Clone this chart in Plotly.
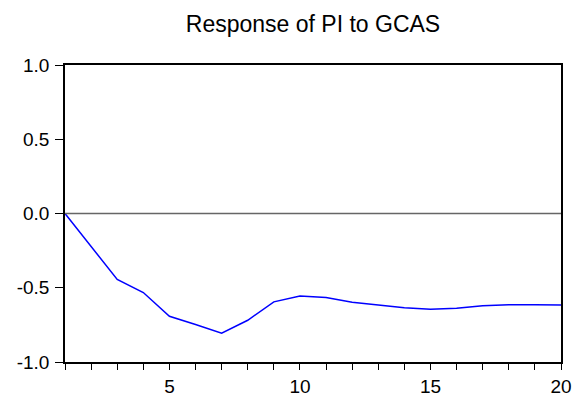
import plotly.graph_objects as go

periods = list(range(1, 21))
response = [0.0, -0.22, -0.444, -0.532, -0.692, -0.748, -0.806, -0.719, -0.595, -0.555,
            -0.566, -0.598, -0.618, -0.635, -0.645, -0.638, -0.622, -0.615, -0.615, -0.617]
x_tick_labels = {5: "5", 10: "10", 15: "15", 20: "20"}
y_ticks = [-1.0, -0.5, 0.0, 0.5, 1.0]
y_tick_labels = ["-1.0", "-0.5", "0.0", "0.5", "1.0"]

fig = go.Figure()
fig.add_trace(go.Scatter(x=periods, y=response, mode="lines",
                         line=dict(color="#0000FF", width=1.5), showlegend=False))
fig.add_hline(y=0, line=dict(color="#666666", width=1.5))

fig.update_layout(
    template="none",
    width=576, height=397,
    margin=dict(l=65, r=15, t=65, b=35, autoexpand=False),
    paper_bgcolor="white", plot_bgcolor="white",
    font=dict(family="Liberation Sans, Arial, sans-serif", color="black", size=19),
    title=dict(text="Response of PI to GCAS", x=(65 + 561) / 2 / 576, xanchor="center",
               yref="container", y=1 - 32 / 397, yanchor="bottom",
               font=dict(size=23, color="black")),
)
fig.update_xaxes(range=[1, 20], tickmode="array", tickvals=periods,
                 ticktext=[x_tick_labels.get(p, "") for p in periods],
                 ticks="outside", ticklen=6, tickcolor="black", tickwidth=1,
                 showline=True, linecolor="black", linewidth=1.5, mirror=True,
                 showgrid=False, zeroline=False, tickfont=dict(size=19),
                 automargin=False, ticklabelstandoff=0)
fig.update_yaxes(range=[-1, 1], tickmode="array", tickvals=y_ticks, ticktext=y_tick_labels,
                 ticks="outside", ticklen=8, tickcolor="black", tickwidth=1,
                 showline=True, linecolor="black", linewidth=1.5, mirror=True,
                 showgrid=False, zeroline=False, tickfont=dict(size=19),
                 automargin=False, ticklabelstandoff=2)

fig.write_html("out.html")
